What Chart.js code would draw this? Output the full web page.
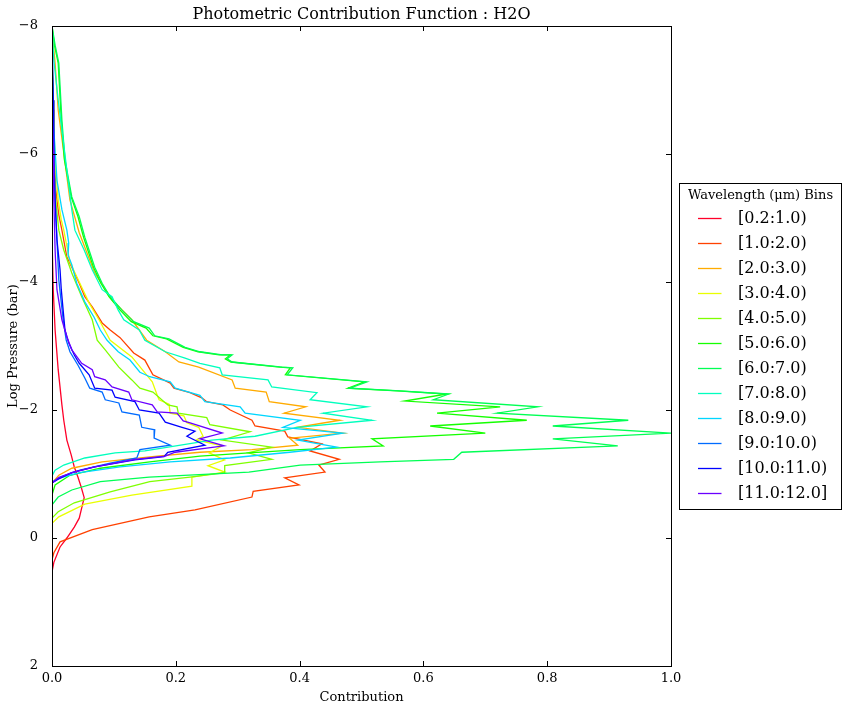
<!DOCTYPE html>
<html>
<head>
<meta charset="utf-8">
<script src="https://cdn.jsdelivr.net/npm/chart.js@4.4.1/dist/chart.umd.min.js"></script>
<style>
html,body{margin:0;padding:0;background:#fff;}
#wrap{position:relative;width:848px;height:710px;}
</style>
</head>
<body>
<div id="wrap"><canvas id="chart" width="848" height="710"></canvas></div>
<script>
// ---- chart text ----
const chartTitle = 'Photometric Contribution Function : H2O';
const xAxisTitle = 'Contribution';
const yAxisTitle = 'Log Pressure (bar)';
const legendTitle = 'Wavelength (\u03bcm) Bins';

// ---- categories ----
const binLabels = ['[0.2:1.0)','[1.0:2.0)','[2.0:3.0)','[3.0:4.0)','[4.0:5.0)','[5.0:6.0)',
                   '[6.0:7.0)','[7.0:8.0)','[8.0:9.0)','[9.0:10.0)','[10.0:11.0)','[11.0:12.0]'];
const binColors = ['#ff0029','#ff4100','#ffab00','#e9ff00','#7fff00','#15ff00',
                   '#00ff54','#00ffbe','#00d6ff','#006bff','#0001ff','#6a00ff'];

// ---- tick values ----
const xTicks = [0, 0.2, 0.4, 0.6, 0.8, 1.0];
const yTicks = [-8, -6, -4, -2, 0, 2];

// ---- series: contribution (x) and log pressure (y) ----
const contrib0 = [0,0.0005,0.002,0.005,0.010,0.016,0.019,0.024,0.031,0.036,0.042,0.047,0.052,0.048,0.044,0.036,0.024,0.013,0.003,0];
const logP0    = [-5.0,-4.5,-3.88,-3.25,-2.63,-2.08,-1.84,-1.53,-1.30,-1.11,-0.95,-0.80,-0.63,-0.47,-0.31,-0.17,0.0,0.14,0.38,0.53];

const contrib1 = [0,0.002,0.003,0.006,0.011,0.016,0.024,0.032,0.044,0.053,0.065,0.081,0.094,0.110,0.132,0.150,0.163,0.191,0.197,0.223,0.242,0.250,0.276,0.288,0.323,0.328,0.376,0.381,0.436,0.417,0.464,0.431,0.441,0.376,0.399,0.325,0.323,0.231,0.157,0.065,0.013,0.003,0];
const logP1    = [-7.47,-6.69,-6.06,-5.44,-5.05,-4.81,-4.39,-4.23,-3.98,-3.77,-3.61,-3.36,-3.25,-3.13,-2.89,-2.78,-2.55,-2.42,-2.34,-2.27,-2.19,-2.13,-2.08,-2.00,-1.84,-1.75,-1.67,-1.58,-1.47,-1.36,-1.23,-1.14,-1.03,-0.94,-0.83,-0.73,-0.64,-0.44,-0.33,-0.13,0.06,0.23,0.34];

const contrib2 = [0,0.005,0.010,0.019,0.029,0.044,0.069,0.097,0.129,0.153,0.183,0.205,0.237,0.291,0.296,0.346,0.351,0.410,0.375,0.465,0.397,0.470,0.384,0.397,0.323,0.239,0.162,0.081,0.032,0.011,0];
const logP2    = [-7.94,-7.42,-6.69,-6.02,-5.28,-4.77,-4.14,-3.72,-3.41,-3.09,-2.91,-2.75,-2.67,-2.47,-2.34,-2.28,-2.13,-2.05,-1.95,-1.84,-1.73,-1.64,-1.56,-1.45,-1.38,-1.34,-1.27,-1.19,-1.09,-0.98,-0.86];

const contrib3 = [0,0.002,0.005,0.010,0.015,0.019,0.029,0.045,0.060,0.076,0.094,0.129,0.162,0.170,0.173,0.189,0.191,0.213,0.218,0.237,0.244,0.233,0.275,0.254,0.279,0.252,0.279,0.226,0.226,0.129,0.053,0.011,0];
const logP3    = [-7.55,-6.69,-5.91,-5.28,-4.97,-4.81,-4.31,-3.98,-3.67,-3.41,-3.09,-2.83,-2.44,-2.23,-2.16,-2.09,-1.95,-1.91,-1.80,-1.73,-1.59,-1.53,-1.44,-1.33,-1.22,-1.13,-1.03,-0.95,-0.81,-0.67,-0.53,-0.33,-0.23];

const contrib4 = [0,0.002,0.003,0.006,0.011,0.019,0.032,0.048,0.065,0.073,0.086,0.108,0.129,0.142,0.163,0.187,0.202,0.204,0.250,0.255,0.320,0.275,0.355,0.317,0.355,0.279,0.279,0.223,0.158,0.094,0.036,0.010,0];
const logP4    = [-7.63,-6.84,-6.06,-5.28,-4.81,-4.50,-4.14,-3.77,-3.41,-3.09,-2.94,-2.67,-2.47,-2.34,-2.28,-2.08,-2.05,-1.95,-1.88,-1.77,-1.66,-1.53,-1.42,-1.33,-1.23,-1.13,-1.02,-0.95,-0.88,-0.72,-0.55,-0.41,-0.31];

const contrib5 = [0,0.004,0.010,0.015,0.020,0.031,0.042,0.051,0.067,0.079,0.092,0.110,0.128,0.152,0.163,0.185,0.212,0.236,0.270,0.288,0.280,0.289,0.368,0.385,0.377,0.505,0.478,0.558,0.638,
                  0.570,0.724,0.622,0.767,0.611,0.700,0.517,0.535,0.401,0.318,0.239,0.158,0.078,0.029,0.005,0];
const logP5    = [-8.0,-7.70,-7.42,-6.53,-5.91,-5.33,-5.02,-4.70,-4.23,-3.98,-3.77,-3.56,-3.38,-3.28,-3.16,-3.11,-2.98,-2.91,-2.86,-2.86,-2.80,-2.75,-2.67,-2.66,-2.55,-2.44,-2.34,-2.30,-2.25,
                  -2.14,-2.05,-1.95,-1.84,-1.75,-1.64,-1.55,-1.44,-1.38,-1.33,-1.28,-1.19,-1.09,-0.98,-0.83,-0.67];

const contrib6 = [0,0.005,0.011,0.016,0.021,0.032,0.044,0.053,0.069,0.081,0.094,0.113,0.132,0.157,0.166,0.189,0.215,0.239,0.275,0.291,0.283,0.291,0.372,0.389,0.380,0.509,0.481,0.562,0.641,
                  0.616,0.785,0.719,0.931,0.809,1.000,0.809,0.914,0.662,0.649,0.530,0.401,0.318,0.157,0.078,0.032,0.010,0];
const logP6    = [-8.0,-7.70,-7.42,-6.53,-5.91,-5.33,-5.02,-4.70,-4.23,-3.98,-3.77,-3.56,-3.38,-3.28,-3.16,-3.11,-2.98,-2.91,-2.86,-2.86,-2.80,-2.75,-2.67,-2.66,-2.55,-2.44,-2.34,-2.30,-2.25,
                  -2.16,-2.05,-1.95,-1.84,-1.75,-1.64,-1.55,-1.44,-1.34,-1.23,-1.19,-1.14,-1.03,-0.95,-0.88,-0.75,-0.64,-0.52];

const contrib7 = [0,0.003,0.010,0.018,0.026,0.032,0.037,0.052,0.065,0.081,0.097,0.107,0.116,0.141,0.150,0.183,0.215,0.239,0.271,0.275,0.349,0.355,0.428,0.417,0.509,0.438,0.517,0.396,0.328,0.258,0.150,0.102,0.053,0.019,0.005,0];
const logP7    = [-8.0,-7.47,-6.84,-6.22,-5.59,-5.13,-4.81,-4.50,-4.19,-3.88,-3.77,-3.56,-3.41,-3.25,-3.09,-2.91,-2.81,-2.73,-2.66,-2.55,-2.47,-2.36,-2.27,-2.16,-2.05,-1.95,-1.84,-1.73,-1.59,-1.53,-1.36,-1.33,-1.25,-1.14,-1.06,-0.97];

const contrib8 = [0,0.003,0.008,0.016,0.024,0.027,0.026,0.032,0.040,0.053,0.068,0.078,0.089,0.107,0.126,0.142,0.158,0.191,0.199,0.239,0.247,0.304,0.312,0.401,0.373,0.470,0.397,0.460,0.384,0.288,0.191,0.110,0.045,0.013,0];
const logP8    = [-7.47,-6.38,-5.59,-5.13,-4.81,-4.61,-4.42,-4.27,-3.98,-3.69,-3.45,-3.25,-3.09,-2.91,-2.78,-2.59,-2.52,-2.44,-2.34,-2.23,-2.13,-2.05,-1.95,-1.84,-1.73,-1.64,-1.53,-1.42,-1.34,-1.25,-1.19,-1.11,-1.02,-0.94,-0.88];

const contrib9 = [0,0.002,0.005,0.008,0.011,0.018,0.023,0.029,0.042,0.053,0.061,0.081,0.086,0.108,0.113,0.141,0.145,0.166,0.165,0.191,0.142,0.137,0.094,0.045,0.013,0];
const logP9    = [-7.63,-6.53,-5.28,-4.66,-4.03,-3.41,-3.09,-2.91,-2.70,-2.50,-2.34,-2.28,-2.16,-2.11,-1.97,-1.92,-1.73,-1.69,-1.56,-1.45,-1.38,-1.25,-1.17,-1.06,-0.95,-0.86];

const contrib10 = [0,0.002,0.003,0.005,0.008,0.013,0.015,0.018,0.021,0.027,0.036,0.044,0.060,0.069,0.097,0.102,0.134,0.141,0.173,0.183,0.210,0.231,0.218,0.247,0.187,0.181,0.134,0.069,0.032,0.010,0];
const logP10    = [-7.94,-6.84,-5.91,-5.28,-4.66,-4.19,-3.88,-3.56,-3.25,-3.05,-2.86,-2.73,-2.55,-2.34,-2.31,-2.20,-2.13,-2.00,-1.95,-1.81,-1.73,-1.67,-1.59,-1.45,-1.34,-1.27,-1.22,-1.11,-1.02,-0.92,-0.86];

const contrib11 = [0,0.002,0.003,0.005,0.008,0.016,0.024,0.032,0.048,0.065,0.069,0.086,0.097,0.124,0.129,0.162,0.170,0.202,0.212,0.223,0.275,0.239,0.278,0.199,0.183,0.134,0.069,0.032,0.010,0];
const logP11    = [-6.84,-6.06,-5.28,-4.50,-3.88,-3.41,-3.14,-2.94,-2.73,-2.63,-2.52,-2.47,-2.36,-2.28,-2.16,-2.08,-1.97,-1.95,-1.83,-1.80,-1.64,-1.55,-1.44,-1.34,-1.28,-1.23,-1.11,-1.02,-0.94,-0.86];

const allContrib = [contrib0,contrib1,contrib2,contrib3,contrib4,contrib5,contrib6,contrib7,contrib8,contrib9,contrib10,contrib11];
const allLogP    = [logP0,logP1,logP2,logP3,logP4,logP5,logP6,logP7,logP8,logP9,logP10,logP11];

const serif = '"DejaVu Serif", "Liberation Serif", serif';

const datasets = binLabels.map((label, i) => {
  const cs = allContrib[i], ps = allLogP[i];
  const n = Math.min(cs.length, ps.length);
  const pts = [];
  for (let j = 0; j < n; j++) pts.push({x: cs[j], y: ps[j]});
  return {
    label, data: pts,
    borderColor: binColors[i], backgroundColor: binColors[i],
    borderWidth: 1.3, pointRadius: 0, pointHoverRadius: 0,
    showLine: true, fill: false, tension: 0,
    order: 12 - i
  };
});

const framePlugin = {
  id: 'frame',
  afterDatasetsDraw(chart) {
    const {ctx, chartArea: a, scales: {x, y}} = chart;
    ctx.save();
    ctx.strokeStyle = '#000';
    ctx.lineWidth = 1;
    ctx.beginPath();
    const tl = 5;
    xTicks.forEach(v => {
      const px = Math.round(x.getPixelForValue(v)) + 0.5;
      ctx.moveTo(px, a.bottom); ctx.lineTo(px, a.bottom - tl);
      ctx.moveTo(px, a.top); ctx.lineTo(px, a.top + tl);
    });
    yTicks.forEach(v => {
      const py = Math.round(y.getPixelForValue(v)) + 0.5;
      ctx.moveTo(a.left, py); ctx.lineTo(a.left + tl, py);
      ctx.moveTo(a.right, py); ctx.lineTo(a.right - tl, py);
    });
    ctx.stroke();
    ctx.strokeRect(a.left + 0.5, a.top + 0.5, a.right - a.left, a.bottom - a.top);
    // title
    ctx.fillStyle = '#000';
    ctx.font = '16px ' + serif;
    ctx.textAlign = 'center';
    ctx.textBaseline = 'middle';
    ctx.fillText(chartTitle, (a.left + a.right) / 2, a.top - 11);
    ctx.restore();
  }
};

const legendPlugin = {
  id: 'binLegend',
  afterDraw(chart) {
    const {ctx, chartArea: a} = chart;
    const left = a.right + 8.5, top = 183.5, w = 162, h = 326;
    ctx.save();
    ctx.fillStyle = '#fff';
    ctx.fillRect(left, top, w, h);
    ctx.strokeStyle = '#000';
    ctx.lineWidth = 1;
    ctx.strokeRect(left, top, w, h);
    ctx.fillStyle = '#000';
    ctx.font = '13px ' + serif;
    ctx.textAlign = 'center';
    ctx.textBaseline = 'middle';
    ctx.fillText(legendTitle, left + w / 2, top + 12);
    ctx.font = '16px ' + serif;
    ctx.textAlign = 'left';
    chart.data.datasets.forEach((ds, i) => {
      const yy = top + 35 + i * 25;
      ctx.strokeStyle = ds.borderColor;
      ctx.lineWidth = 1.3;
      ctx.beginPath();
      ctx.moveTo(left + 18.5, yy); ctx.lineTo(left + 42, yy);
      ctx.stroke();
      ctx.fillStyle = '#000';
      ctx.fillText(ds.label, left + 58.5, yy);
    });
    ctx.restore();
  }
};

new Chart(document.getElementById('chart'), {
  type: 'scatter',
  data: { datasets },
  options: {
    responsive: false,
    animation: false,
    devicePixelRatio: 1,
    layout: { padding: { top: 26, right: 177, left: 0, bottom: 0 } },
    plugins: { legend: { display: false }, title: { display: false }, tooltip: { enabled: false } },
    scales: {
      x: {
        type: 'linear', min: 0, max: 1,
        border: { display: false },
        grid: { display: false },
        afterBuildTicks: s => { s.ticks = xTicks.map(v => ({value: v})); },
        afterFit: s => { s.height = 44; },
        ticks: { color: '#000', padding: -3, maxRotation: 0, font: { family: serif, size: 13 },
                 callback: v => Number(v).toFixed(1) },
        title: { display: true, text: xAxisTitle, color: '#000', font: { family: serif, size: 13 },
                 padding: { top: 0, bottom: 5 } }
      },
      y: {
        type: 'linear', min: -8, max: 2, reverse: true,
        border: { display: false },
        grid: { display: false },
        afterBuildTicks: s => { s.ticks = yTicks.map(v => ({value: v})); },
        afterFit: s => { s.width = 52; },
        ticks: { color: '#000', padding: 6, font: { family: serif, size: 13 },
                 callback: v => (v < 0 ? '\u2212' + Math.abs(v) : String(v)) },
        title: { display: true, text: yAxisTitle, color: '#000', font: { family: serif, size: 13 },
                 padding: { top: 6, bottom: 0 } }
      }
    }
  },
  plugins: [framePlugin, legendPlugin]
});
</script>
</body>
</html>
